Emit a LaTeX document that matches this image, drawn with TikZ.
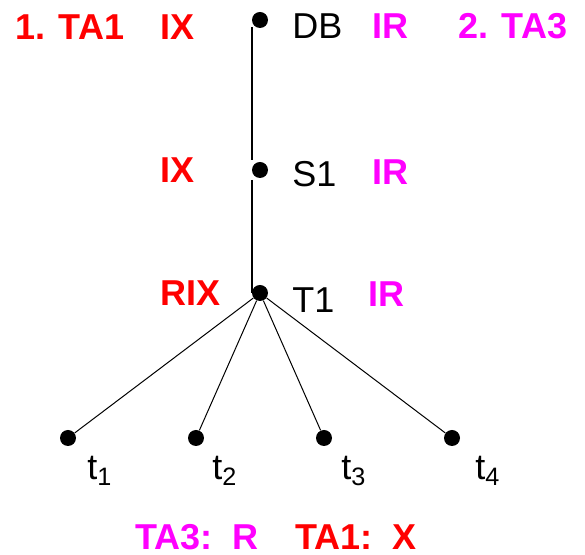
\documentclass[tikz,border=0pt]{standalone}
\usepackage{fontspec}
\setmainfont{Liberation Sans}
\definecolor{xred}{RGB}{255,0,0}
\definecolor{rmagenta}{RGB}{255,0,255}

\begin{document}
\begin{tikzpicture}[
      x=0.5pt, y=-0.5pt,
      dot/.style={circle, fill, inner sep=0pt, minimum size=8pt},
      obj/.style={anchor=base west, inner sep=0pt, font=\fontsize{18}{20}\selectfont},
      lockx/.style={obj, text=xred, font=\fontsize{18}{20}\selectfont\bfseries},
      lockr/.style={obj, text=rmagenta, font=\fontsize{18}{20}\selectfont\bfseries},
      trunk/.style={line width=1pt},
      branch/.style={line width=0.5pt},
  ]
    \useasboundingbox (0,0) rectangle (585,555);

    % hierarchy of granules
    \node[dot] (DB) at (260,20) {};
    \node[dot] (S1) at (260,170) {};
    \node[dot] (T1) at (260,293) {}
    [level distance=72.5pt, sibling distance=64pt, edge from parent/.style={draw, branch}]
    child { node[dot] (t1) {} }
    child { node[dot] (t2) {} }
    child { node[dot] (t3) {} }
    child { node[dot] (t4) {} }
    ;
    \draw[trunk, shorten <=3.5pt, shorten >=5pt] (DB.west) -- (S1.west);
    \draw[trunk, shorten <=5pt] (S1.west) -- (T1.west);

    % names
    \node[obj] (nDB) at (292,39) {DB};
    \node[obj] (nS1) at (292,187) {S1};
    \node[obj] (nT1) at (292,313) {T1};
    \node[obj] (nt1) at (87,480) {t\textsubscript{1}};
    \node[obj] (nt2) at (212,480) {t\textsubscript{2}};
    \node[obj] (nt3) at (341,480) {t\textsubscript{3}};
    \node[obj] (nt4) at (475,480) {t\textsubscript{4}};

    % locks of TA1
    \node[lockx] (ta1) at (15,40) {1. TA1};
    \node[lockx] (xDB) at (160,40) {IX};
    \node[lockx] (xS1) at (160,183) {IX};
    \node[lockx] (xT1) at (160,306) {RIX};
    \node[lockx] (xt) at (295,550) {TA1:\ \ X};

    % locks of TA3
    \node[lockr] (ta3) at (458,39) {2. TA3};
    \node[lockr] (rDB) at (372,39) {IR};
    \node[lockr] (rS1) at (372,185) {IR};
    \node[lockr] (rT1) at (368,307) {IR};
    \node[lockr] (rt) at (135,550) {TA3:\ \ R};
  \end{tikzpicture}
\end{document}
